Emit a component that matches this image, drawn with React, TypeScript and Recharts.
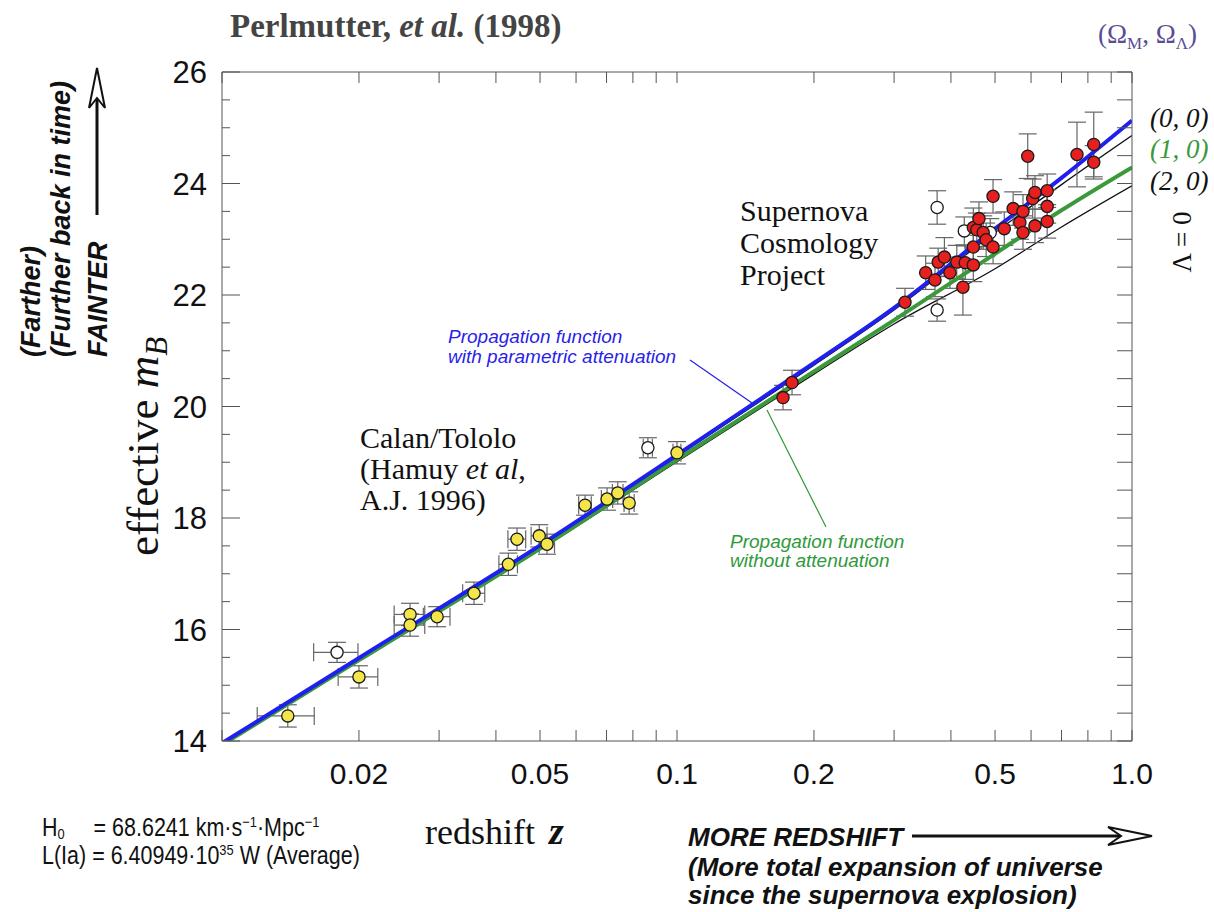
import React from "react";
import { ComposedChart, Scatter, Line, XAxis, YAxis, ErrorBar } from "recharts";

// Calan/Tololo low-redshift supernovae (filled yellow)
const calanZ = [0.01395, 0.02, 0.0259, 0.0259, 0.0297, 0.0358, 0.0426, 0.0445, 0.0498, 0.0518, 0.0628, 0.0702, 0.0741, 0.0785, 0.1];
const calanM = [14.45, 15.15, 16.27, 16.08, 16.23, 16.65, 17.17, 17.62, 17.68, 17.53, 18.23, 18.34, 18.45, 18.27, 19.17];
const calanErrM = [0.2, 0.2, 0.2, 0.2, 0.18, 0.2, 0.2, 0.2, 0.2, 0.18, 0.18, 0.2, 0.2, 0.2, 0.2];

// Calan/Tololo excluded (open circles)
const calanOpenZ = [0.0179, 0.0863];
const calanOpenM = [15.59, 19.26];

// Supernova Cosmology Project (filled red)
const scpZ = [0.171, 0.179, 0.317, 0.352, 0.369, 0.375, 0.387, 0.398, 0.412, 0.425, 0.43, 0.448, 0.448, 0.448, 0.456, 0.461, 0.471, 0.478, 0.495, 0.495, 0.524, 0.548, 0.567, 0.576, 0.576, 0.59, 0.605, 0.612, 0.612, 0.651, 0.651, 0.651, 0.757, 0.824, 0.824];
const scpM = [20.16, 20.43, 21.87, 22.4, 22.27, 22.59, 22.68, 22.4, 22.59, 22.14, 22.58, 22.86, 22.54, 23.21, 23.17, 23.37, 23.12, 22.99, 22.86, 23.77, 23.19, 23.55, 23.3, 23.5, 23.12, 24.49, 23.73, 23.84, 23.24, 23.87, 23.59, 23.32, 24.52, 24.7, 24.38];
const scpErrM = [0.22, 0.22, 0.25, 0.3, 0.3, 0.25, 0.35, 0.28, 0.3, 0.5, 0.3, 0.3, 0.3, 0.35, 0.3, 0.3, 0.3, 0.3, 0.3, 0.3, 0.3, 0.3, 0.3, 0.3, 0.3, 0.4, 0.35, 0.3, 0.3, 0.3, 0.3, 0.3, 0.58, 0.58, 0.3];

// SCP excluded (open circles)
const scpOpenZ = [0.373, 0.373, 0.428, 0.488];
const scpOpenM = [23.57, 21.73, 23.15, 23.12];

// model curves
const curveZ = [0.01, 0.02, 0.05, 0.1, 0.2, 0.3, 0.5, 0.7, 1.0];
const blueM = [13.96, 15.49, 17.51, 19.13, 20.78, 21.77, 23.19, 24.1, 25.13];
const flat00M = [13.94, 15.47, 17.49, 19.11, 20.74, 21.73, 23.12, 23.98, 24.86];
const green10M = [13.93, 15.45, 17.45, 19.05, 20.63, 21.55, 22.74, 23.52, 24.29];
const closed20M = [13.92, 15.43, 17.43, 19.01, 20.58, 21.48, 22.47, 23.22, 23.96];

const xTicks = [0.01, 0.02, 0.03, 0.04, 0.05, 0.06, 0.07, 0.08, 0.09, 0.1, 0.2, 0.3, 0.4, 0.5, 0.6, 0.7, 0.8, 0.9, 1.0];
const xLabels = [0.02, 0.05, 0.1, 0.2, 0.5, 1.0];
const yTicks = [14, 14.5, 15, 15.5, 16, 16.5, 17, 17.5, 18, 18.5, 19, 19.5, 20, 20.5, 21, 21.5, 22, 22.5, 23, 23.5, 24, 24.5, 25, 25.5, 26];
const yLabels = [14, 16, 18, 20, 22, 24, 26];

const rows = (zs: number[], ms: number[], em?: number[], ez?: number) =>
  zs.map((z, i) => ({ z, m: ms[i], em: em ? em[i] : 0.2, ez: ez ?? 0 }));

const calanData = rows(calanZ, calanM, calanErrM, 0.002);
const calanOpenData = rows(calanOpenZ, calanOpenM, [0.18, 0.18], 0.002);
const scpData = rows(scpZ, scpM, scpErrM);
const scpOpenData = rows(scpOpenZ, scpOpenM, [0.3, 0.2, 0.25, 0.25]);

const curve = (ms: number[]) => curveZ.map((z, i) => ({ z, m: ms[i] }));

const SANS = "'Liberation Sans', Arial, Helvetica, sans-serif";
const SERIF = "'Liberation Serif', 'Times New Roman', serif";
const AXIS = "#555";

function dot(fill: string) {
  return (p: any) => (
    <circle cx={p.cx} cy={p.cy} r={6.1} fill={fill} stroke="#1a1a1a" strokeWidth={1.3} />
  );
}

function BottomTick(p: any) {
  const v = p.payload.value;
  return (
    <g>
      <line x1={p.x} x2={p.x} y1={p.y} y2={p.y - 11} stroke={AXIS} />
      {xLabels.includes(v) && (
        <text x={p.x} y={p.y + 43} textAnchor="middle" fontSize={30} fontFamily={SANS} fill="#111">
          {v === 1 ? "1.0" : String(v)}
        </text>
      )}
    </g>
  );
}

function TopTick(p: any) {
  return <line x1={p.x} x2={p.x} y1={p.y} y2={p.y + 11} stroke={AXIS} />;
}

function LeftTick(p: any) {
  const v = p.payload.value;
  const major = yLabels.includes(v);
  return (
    <g>
      <line x1={p.x} x2={p.x + (major ? 18 : 8)} y1={p.y} y2={p.y} stroke={AXIS} />
      {major && (
        <text x={p.x - 15} y={p.y + 11} textAnchor="end" fontSize={31} fontFamily={SANS} fill="#111">
          {v}
        </text>
      )}
    </g>
  );
}

function RightTick(p: any) {
  return <line x1={p.x} x2={p.x - 15} y1={p.y} y2={p.y} stroke={AXIS} />;
}

function Overlay() {
  const bi = { fontFamily: SANS, fontWeight: "bold", fontStyle: "italic", fontSize: 27, fill: "#111" } as const;
  const bi2 = { ...bi, fontSize: 26 } as const;
  return (
    <svg width={1214} height={912} style={{ position: "absolute", left: 0, top: 0, pointerEvents: "none" }}>
      {/* title */}
      <text x={230} y={37} fontFamily={SERIF} fontWeight="bold" fontSize={33} fill="#444">
        Perlmutter, <tspan fontStyle="italic">et al.</tspan> (1998)
      </text>
      <text x={1098} y={43} fontFamily={SERIF} fontSize={27} fill="#5a4d94">
        (Ω<tspan dy={6} fontSize={17}>M</tspan>
        <tspan dy={-6}>, Ω</tspan>
        <tspan dy={6} fontSize={17}>Λ</tspan>
        <tspan dy={-6}>)</tspan>
      </text>

      {/* model labels on the right */}
      <text x={1150} y={127} fontFamily={SERIF} fontStyle="italic" fontSize={27} fill="#111">(0, 0)</text>
      <text x={1150} y={158} fontFamily={SERIF} fontStyle="italic" fontSize={27} fill="#3a9a3a">(1, 0)</text>
      <text x={1150} y={190} fontFamily={SERIF} fontStyle="italic" fontSize={27} fill="#111">(2, 0)</text>
      <text transform="translate(1191,242) rotate(-90)" textAnchor="middle" fontFamily={SERIF} fontSize={27} fill="#111">
        Λ = 0
      </text>

      {/* dataset labels */}
      <text fontFamily={SERIF} fontSize={30} fill="#111">
        <tspan x={740} y={221}>Supernova</tspan>
        <tspan x={740} y={253}>Cosmology</tspan>
        <tspan x={740} y={285}>Project</tspan>
      </text>
      <text fontFamily={SERIF} fontSize={30} fill="#111">
        <tspan x={360} y={448}>Calan/Tololo</tspan>
        <tspan x={360} y={479}>(Hamuy <tspan fontStyle="italic">et al</tspan>,</tspan>
        <tspan x={360} y={510}>A.J. 1996)</tspan>
      </text>

      {/* curve annotations */}
      <text fontFamily={SANS} fontStyle="italic" fontSize={19} fill="#2a1ee8">
        <tspan x={448} y={343}>Propagation function</tspan>
        <tspan x={448} y={363}>with parametric attenuation</tspan>
      </text>
      <line x1={690} y1={360} x2={752} y2={403} stroke="#2a1ee8" strokeWidth={1.2} />
      <text fontFamily={SANS} fontStyle="italic" fontSize={19} fill="#2e9a3a">
        <tspan x={730} y={548}>Propagation function</tspan>
        <tspan x={730} y={567}>without attenuation</tspan>
      </text>
      <line x1={767} y1={410} x2={826} y2={527} stroke="#2e9a3a" strokeWidth={1.2} />

      {/* y-axis side labels */}
      <text transform="translate(40,357) rotate(-90)" {...bi}>(Farther)</text>
      <text transform="translate(70,357) rotate(-90)" {...bi}>(Further back in time)</text>
      <text transform="translate(107,357) rotate(-90)" {...bi}>FAINTER</text>
      <line x1={97} y1={215} x2={97} y2={95} stroke="#111" strokeWidth={3} />
      <path d="M 89 108 L 97 68 L 105 108 L 97 98 Z" fill="#fff" stroke="#111" strokeWidth={2} />
      <text transform="translate(158,556) rotate(-90)" fontFamily={SERIF} fontSize={45} fill="#111">
        effective <tspan fontStyle="italic">m</tspan>
        <tspan fontStyle="italic" fontSize={31} dy={9}>B</tspan>
      </text>

      {/* x-axis labels */}
      <text x={425} y={844} fontFamily={SERIF} fontSize={36} fill="#111">redshift</text>
      <text x={549} y={844} fontFamily={SERIF} fontStyle="italic" fontWeight="bold" fontSize={38} fill="#111">z</text>

      <g transform="translate(42,836) scale(0.86,1)" fontFamily={SANS} fontSize={25} fill="#111">
        <text x={0} y={0}>H<tspan dy={3} fontSize={15}>0</tspan></text>
        <text x={60} y={0}>
          = 68.6241 km·s<tspan dy={-9} fontSize={15}>−1</tspan>
          <tspan dy={9}>·Mpc</tspan>
          <tspan dy={-9} fontSize={15}>−1</tspan>
        </text>
        <text x={0} y={28}>
          L(Ia) = 6.40949·10<tspan dy={-9} fontSize={15}>35</tspan>
          <tspan dy={9}> W (Average)</tspan>
        </text>
      </g>

      <text x={688} y={846} {...bi2}>MORE REDSHIFT</text>
      <line x1={912} y1={836} x2={1125} y2={836} stroke="#111" strokeWidth={3} />
      <path d="M 1108 827 L 1152 836 L 1108 845 L 1121 836 Z" fill="#fff" stroke="#111" strokeWidth={2} />
      <text x={688} y={876} {...bi2}>(More total expansion of universe</text>
      <text x={688} y={904} {...bi2}>since the supernova explosion)</text>
    </svg>
  );
}

export default function App() {
  return (
    <div style={{ position: "absolute", left: 0, top: 0, width: 1214, height: 912, background: "#fff" }}>
      <ComposedChart width={1214} height={912} margin={{ top: 71, right: 81, bottom: 131, left: 161 }}>
        <XAxis
          dataKey="z"
          type="number"
          scale="log"
          domain={[0.01, 1]}
          allowDataOverflow
          ticks={xTicks}
          interval={0}
          height={40}
          tickSize={0}
          tickMargin={0}
          stroke={AXIS}
          tick={(p: any) => <BottomTick {...p} />}
        />
        <XAxis
          xAxisId="top"
          orientation="top"
          dataKey="z"
          type="number"
          scale="log"
          domain={[0.01, 1]}
          allowDataOverflow
          ticks={xTicks}
          interval={0}
          height={1}
          tickSize={0}
          tickMargin={0}
          stroke={AXIS}
          tick={(p: any) => <TopTick {...p} />}
        />
        <YAxis
          dataKey="m"
          type="number"
          domain={[14, 26]}
          allowDataOverflow
          ticks={yTicks}
          interval={0}
          width={61}
          tickSize={0}
          tickMargin={0}
          stroke={AXIS}
          tick={(p: any) => <LeftTick {...p} />}
        />
        <YAxis
          yAxisId="right"
          orientation="right"
          dataKey="m"
          type="number"
          domain={[14, 26]}
          allowDataOverflow
          ticks={yTicks}
          interval={0}
          width={1}
          tickSize={0}
          tickMargin={0}
          stroke={AXIS}
          tick={(p: any) => <RightTick {...p} />}
        />

        <Line data={curve(closed20M)} dataKey="m" type="monotone" stroke="#111" strokeWidth={1.3} dot={false} isAnimationActive={false} />
        <Line data={curve(flat00M)} dataKey="m" type="monotone" stroke="#111" strokeWidth={1.3} dot={false} isAnimationActive={false} />

        <Scatter data={calanData} fill="#f4e64a" shape={dot("#f4e64a")} isAnimationActive={false}>
          <ErrorBar dataKey="em" direction="y" width={9} stroke="#666" strokeWidth={1.2} />
          <ErrorBar dataKey="ez" direction="x" width={9} stroke="#666" strokeWidth={1.2} />
        </Scatter>
        <Scatter data={calanOpenData} fill="#fff" shape={dot("#fff")} isAnimationActive={false}>
          <ErrorBar dataKey="em" direction="y" width={9} stroke="#666" strokeWidth={1.2} />
          <ErrorBar dataKey="ez" direction="x" width={9} stroke="#666" strokeWidth={1.2} />
        </Scatter>
        <Scatter data={scpOpenData} fill="#fff" shape={dot("#fff")} isAnimationActive={false}>
          <ErrorBar dataKey="em" direction="y" width={9} stroke="#666" strokeWidth={1.2} />
        </Scatter>
        <Scatter data={scpData} fill="#e5201e" shape={dot("#e5201e")} isAnimationActive={false}>
          <ErrorBar dataKey="em" direction="y" width={9} stroke="#666" strokeWidth={1.2} />
        </Scatter>

        <Line data={curve(green10M)} dataKey="m" type="monotone" stroke="#3a9a3a" strokeWidth={4} dot={false} isAnimationActive={false} />
        <Line data={curve(blueM)} dataKey="m" type="monotone" stroke="#2020ee" strokeWidth={4} dot={false} isAnimationActive={false} />
      </ComposedChart>
      <Overlay />
    </div>
  );
}
